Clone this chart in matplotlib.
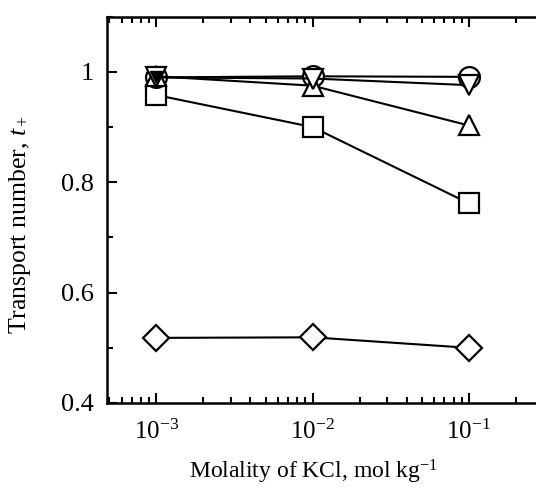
import numpy as np
import matplotlib
matplotlib.use("Agg")
import matplotlib.pyplot as plt
from matplotlib.ticker import LogLocator, NullFormatter, MultipleLocator

plt.rcParams["font.family"] = ["Liberation Serif", "DejaVu Serif"]
plt.rcParams["mathtext.fontset"] = "custom"
plt.rcParams["mathtext.rm"] = "Liberation Serif"
plt.rcParams["mathtext.it"] = "Liberation Serif:italic"

molality = [1e-3, 1e-2, 1e-1]
t_circle = [0.990, 0.992, 0.991]
t_down = [0.990, 0.988, 0.976]
t_up = [0.992, 0.975, 0.903]
t_square = [0.958, 0.900, 0.762]
t_diamond = [0.518, 0.519, 0.500]
xtick_labels = [r"10$^{-3}$", r"10$^{-2}$", r"10$^{-1}$"]

# bottom-to-top drawing order
series = [(t_diamond, "D"), (t_square, "s"), (t_circle, "o"), (t_up, "^"), (t_down, "v")]
sizes = {"s": 14, "^": 15, "v": 15, "o": 15, "D": 13}

fig = plt.figure(figsize=(5.36, 4.87), dpi=100)
# right side of the frame lies past the picture edge, as in the scan
ax = fig.add_axes([0.199, 0.1725, 0.8233, 0.7932])

for ys, m in series:
    ax.plot(molality, ys, color="black", lw=1.5, marker=m, ms=sizes[m],
            mfc="white", mec="black", mew=1.6, zorder=3)
# dark overlap of the triangles at the first point
ax.plot(molality[:1], t_down[:1], ls="none", marker="v", ms=9, color="black", zorder=4)

ax.set_xscale("log")
ax.set_xlim(4.8e-4, 0.322)
ax.set_ylim(0.4, 1.1)
ax.set_xticks(molality)
ax.set_xticklabels(xtick_labels, fontsize=18)
ax.xaxis.set_minor_locator(LogLocator(base=10, subs=np.arange(2, 10), numticks=20))
ax.xaxis.set_minor_formatter(NullFormatter())
ax.set_yticks([0.4, 0.6, 0.8, 1.0])
ax.set_yticklabels(["0.4", "0.6", "0.8", "1"], fontsize=19)
ax.yaxis.set_minor_locator(MultipleLocator(0.1))

ax.tick_params(which="both", direction="in", top=True, right=True, width=1.5)
ax.tick_params(which="major", length=7)
ax.tick_params(which="minor", length=4)
ax.tick_params(axis="x", pad=12)
ax.tick_params(axis="y", pad=9)
for s in ax.spines.values():
    s.set_linewidth(1.8)
ax.spines["right"].set_visible(False)

ax.set_xlabel(r"Molality of KCl, mol kg$^{\mathregular{-1}}$", fontsize=17, va="center")
ax.xaxis.set_label_coords(0.47, -0.178)
ax.set_ylabel(r"Transport number, $t_+$", fontsize=18.5, va="center")
ax.yaxis.set_label_coords(-0.196, 0.461)

fig.savefig("out.png", dpi=100)
